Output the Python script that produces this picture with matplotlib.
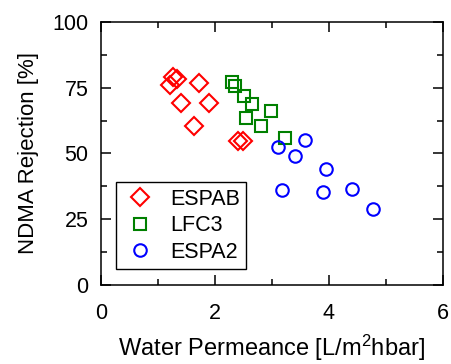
import matplotlib
matplotlib.use("Agg")
import matplotlib.pyplot as plt
from matplotlib.ticker import MultipleLocator

plt.rcParams['font.family'] = ['Liberation Sans', 'DejaVu Sans']

# ESPAB (red diamonds)
espab_x = [1.26, 1.34, 1.21, 1.72, 1.40, 1.89, 1.64, 2.40, 2.49]
espab_y = [79.2, 78.2, 76.1, 76.6, 69.0, 69.2, 60.5, 54.7, 54.7]

# LFC3 (green squares)
lfc3_x = [2.30, 2.35, 2.51, 2.65, 2.98, 2.54, 2.80, 3.22]
lfc3_y = [77.2, 75.7, 72.0, 68.6, 66.3, 63.4, 60.3, 55.7]

# ESPA2 (blue circles)
espa2_x = [3.11, 3.58, 3.41, 3.95, 3.18, 3.89, 4.40, 4.77]
espa2_y = [52.4, 55.0, 49.1, 43.9, 36.0, 35.2, 36.3, 28.8]

fig = plt.figure(figsize=(4.52, 3.64), dpi=100)
ax = fig.add_axes([0.2235, 0.217, 0.7565, 0.723])

ax.plot(espab_x, espab_y, 'D', ms=9, mfc='none', mec='red', mew=1.5, ls='none', label='ESPAB')
ax.plot(lfc3_x, lfc3_y, 's', ms=9, mfc='none', mec='green', mew=1.5, ls='none', label='LFC3')
ax.plot(espa2_x, espa2_y, 'o', ms=9, mfc='none', mec='blue', mew=1.5, ls='none', label='ESPA2')

ax.set_xlim(0, 6)
ax.set_ylim(0, 100)
ax.xaxis.set_major_locator(MultipleLocator(2))
ax.xaxis.set_minor_locator(MultipleLocator(1))
ax.yaxis.set_major_locator(MultipleLocator(25))
ax.yaxis.set_minor_locator(MultipleLocator(12.5))
ax.tick_params(which='both', direction='in', top=True, right=True, labelsize=15.5, width=1.1)
ax.tick_params(which='major', length=7)
ax.tick_params(which='minor', length=4)
ax.tick_params(axis='x', which='major', pad=13)
ax.tick_params(axis='y', which='major', pad=9)
for s in ax.spines.values():
    s.set_linewidth(1.1)

ax.set_xlabel(r'Water Permeance [L/m$\mathregular{^2}$hbar]', fontsize=17, labelpad=6)
ax.set_ylabel('NDMA Rejection [%]', fontsize=16, labelpad=10)

leg = ax.legend(loc='lower left', bbox_to_anchor=(0.044, 0.061), borderaxespad=0,
                fontsize=15.5, fancybox=False, edgecolor='black', framealpha=1,
                handletextpad=0.6, labelspacing=0.25, borderpad=0.3, handlelength=1.6)
leg.get_frame().set_linewidth(1.0)

fig.savefig('out.png', dpi=100)
